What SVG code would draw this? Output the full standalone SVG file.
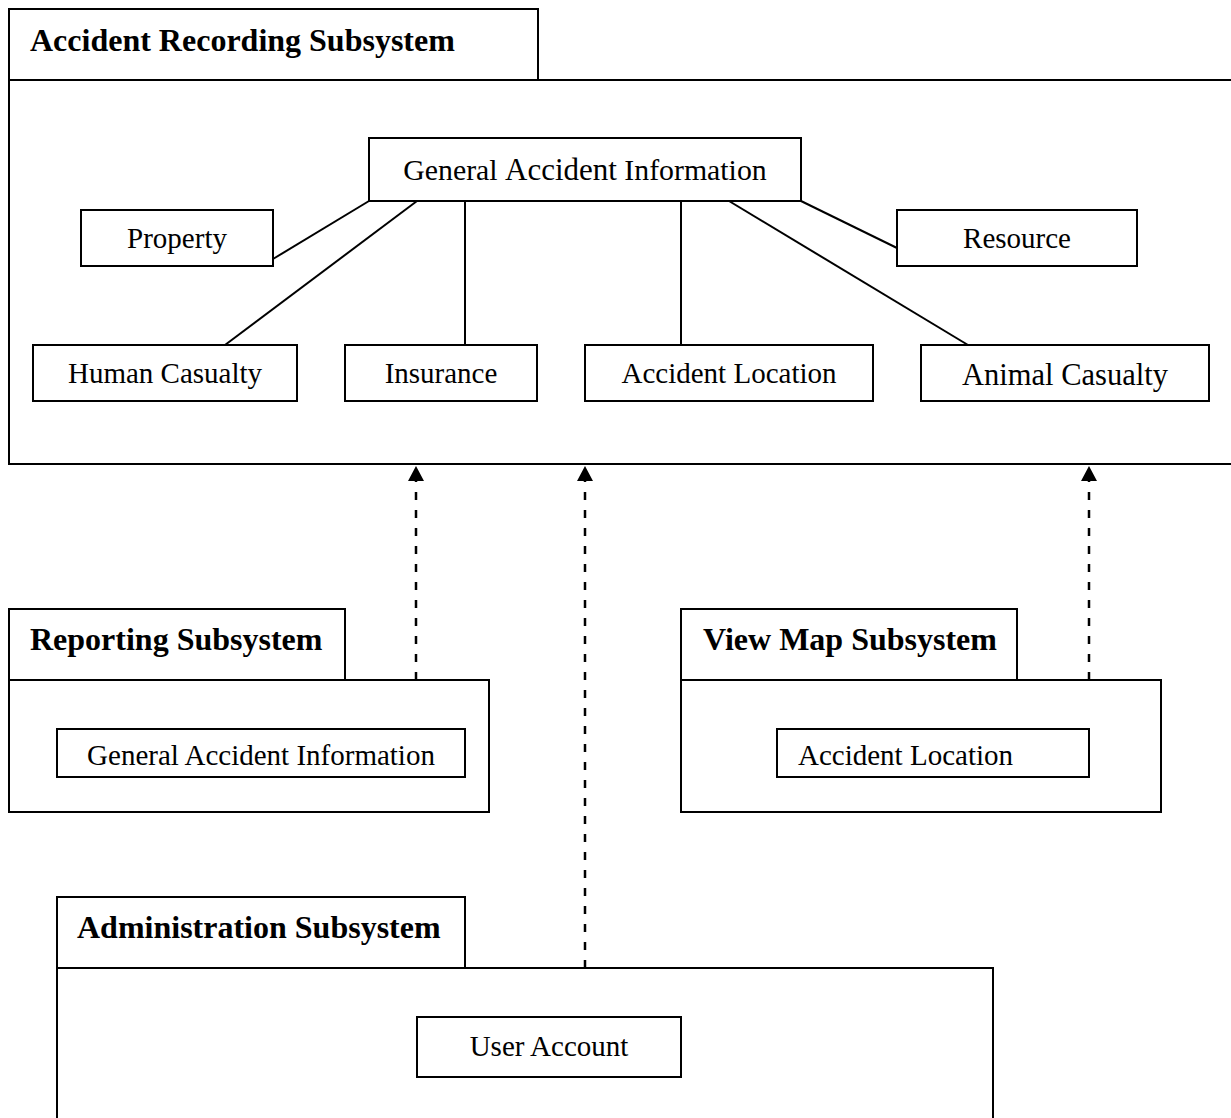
<svg xmlns="http://www.w3.org/2000/svg" width="1231" height="1118" viewBox="0 0 1231 1118">
<style>
.box{fill:#fff;stroke:#000;stroke-width:2}
.t{font-family:"Liberation Serif","Times New Roman",serif;font-size:29px;fill:#000}
.b{font-family:"Liberation Serif","Times New Roman",serif;font-size:32px;font-weight:bold;fill:#000}
.c{text-anchor:middle}
.ln{stroke:#000;stroke-width:2;fill:none}
.dep{stroke:#000;stroke-width:2.5;fill:none;stroke-dasharray:8,10}
</style>
<defs>
<marker id="ah" markerWidth="16" markerHeight="17" refX="15" refY="8" orient="auto" markerUnits="userSpaceOnUse">
<path d="M0,0 L15,8 L0,16 Z" fill="#000"/>
</marker>
</defs>
<rect width="1231" height="1118" fill="#fff"/>

<g id="accident-recording-subsystem">
<rect class="box" x="9" y="9" width="529" height="71"/>
<rect class="box" x="9" y="80" width="1225" height="384"/>
<text class="b" x="30" y="51">Accident Recording Subsystem</text>
</g>

<g id="reporting-subsystem">
<rect class="box" x="9" y="609" width="336" height="71"/>
<rect class="box" x="9" y="680" width="480" height="132"/>
<text class="b" x="30" y="650">Reporting Subsystem</text>
</g>

<g id="viewmap-subsystem">
<rect class="box" x="681" y="609" width="336" height="71"/>
<rect class="box" x="681" y="680" width="480" height="132"/>
<text class="b" x="703" y="650">View Map Subsystem</text>
</g>

<g id="administration-subsystem">
<rect class="box" x="57" y="897" width="408" height="71"/>
<rect class="box" x="57" y="968" width="936" height="160"/>
<text class="b" x="77" y="938">Administration Subsystem</text>
</g>

<g id="connectors">
<line class="ln" x1="369" y1="201" x2="273" y2="259"/>
<line class="ln" x1="417" y1="201" x2="225" y2="345"/>
<line class="ln" x1="465" y1="201" x2="465" y2="345"/>
<line class="ln" x1="681" y1="201" x2="681" y2="345"/>
<line class="ln" x1="729" y1="201" x2="968" y2="345"/>
<line class="ln" x1="801" y1="201" x2="897" y2="248"/>
<line class="dep" x1="416" y1="680" x2="416" y2="466" marker-end="url(#ah)"/>
<line class="dep" x1="585" y1="968" x2="585" y2="466" marker-end="url(#ah)"/>
<line class="dep" x1="1089" y1="680" x2="1089" y2="466" marker-end="url(#ah)"/>
</g>

<g id="general-accident-information">
<rect class="box" x="369" y="138" width="432" height="63"/>
<text class="t c" x="585" y="180" style="font-size:29.8px">General <tspan style="font-size:31px">Accident</tspan> Information</text>
</g>
<g id="property">
<rect class="box" x="81" y="210" width="192" height="56"/>
<text class="t c" x="177" y="248">Property</text>
</g>
<g id="resource">
<rect class="box" x="897" y="210" width="240" height="56"/>
<text class="t c" x="1017" y="248">Resource</text>
</g>
<g id="human-casualty">
<rect class="box" x="33" y="345" width="264" height="56"/>
<text class="t c" x="165" y="383">Human Casualty</text>
</g>
<g id="insurance">
<rect class="box" x="345" y="345" width="192" height="56"/>
<text class="t c" x="441" y="383">Insurance</text>
</g>
<g id="accident-location">
<rect class="box" x="585" y="345" width="288" height="56"/>
<text class="t c" x="729" y="383">Accident Location</text>
</g>
<g id="animal-casualty">
<rect class="box" x="921" y="345" width="288" height="56"/>
<text class="t c" x="1065" y="385" style="font-size:30.5px">Animal Casualty</text>
</g>
<g id="reporting-general-accident-information">
<rect class="box" x="57" y="729" width="408" height="48"/>
<text class="t c" x="261" y="765">General Accident Information</text>
</g>
<g id="viewmap-accident-location">
<rect class="box" x="777" y="729" width="312" height="48"/>
<text class="t" x="798" y="765">Accident Location</text>
</g>
<g id="user-account">
<rect class="box" x="417" y="1017" width="264" height="60"/>
<text class="t c" x="549" y="1056">User Account</text>
</g>
</svg>
